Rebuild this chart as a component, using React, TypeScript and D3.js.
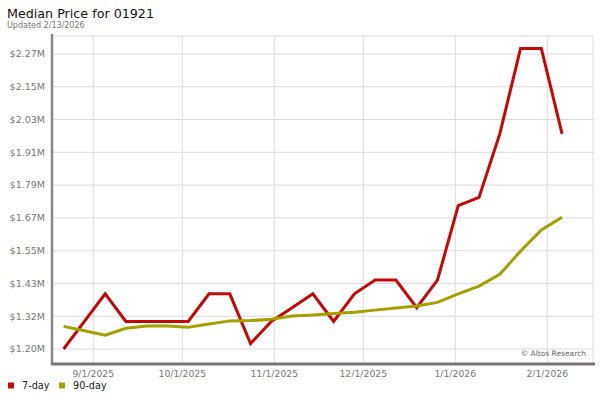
import React from "react";
import * as d3 from "d3";

const weekStart = new Date(2025, 7, 22);
const weeks = d3.range(25).map((i) => d3.timeDay.offset(weekStart, i * 7));

const sevenDay = [
  1.2, 1.3, 1.4, 1.3, 1.3, 1.3, 1.3, 1.4, 1.4, 1.22, 1.3, 1.35, 1.4, 1.3, 1.4,
  1.45, 1.45, 1.35, 1.45, 1.72, 1.75, 1.98, 2.29, 2.29, 1.98,
];
const ninetyDay = [
  1.282, 1.266, 1.25, 1.275, 1.283, 1.283, 1.279, 1.291, 1.302, 1.303, 1.308,
  1.32, 1.323, 1.329, 1.333, 1.341, 1.349, 1.356, 1.369, 1.4, 1.428, 1.471,
  1.555, 1.632, 1.678,
];

const yTickLabels = [
  "$1.20M", "$1.32M", "$1.43M", "$1.55M", "$1.67M",
  "$1.79M", "$1.91M", "$2.03M", "$2.15M", "$2.27M",
];
const xTickDates = [
  new Date(2025, 8, 1),
  new Date(2025, 9, 1),
  new Date(2025, 10, 1),
  new Date(2025, 11, 1),
  new Date(2026, 0, 1),
  new Date(2026, 1, 1),
];

const series = [
  { name: "7-day", values: sevenDay, color: "#c40808" },
  { name: "90-day", values: ninetyDay, color: "#a3a000" },
];

const font = "DejaVu Sans, sans-serif";

const App = () => {
  const plot = { left: 53, right: 593, top: 36, bottom: 364 };

  const x = d3
    .scaleTime()
    .domain([new Date(2025, 7, 18, 10), new Date(2026, 1, 16, 10)])
    .range([plot.left, plot.right]);

  const yMin = 1.2;
  const yMax = 2.27;
  const y = d3.scaleLinear().domain([yMin, yMax]).range([349, 54]);
  const yTicks = yTickLabels.map(
    (_, i) => yMin + (i * (yMax - yMin)) / (yTickLabels.length - 1)
  );

  const line = d3
    .line<number>()
    .x((_, i) => x(weeks[i]))
    .y((d) => y(d));

  const fmt = d3.timeFormat("%-m/%-d/%Y");

  return (
    <svg
      width={600}
      height={400}
      style={{ position: "absolute", left: 0, top: 0, background: "#fff" }}
      fontFamily={font}
    >
      <text x={7} y={18} fontSize={12.7} fill="#111">
        Median Price for 01921
      </text>
      <text x={7} y={28} fontSize={8} fill="#777">
        Updated 2/13/2026
      </text>

      {/* grid */}
      <g stroke="#dcdcdc" strokeWidth={1}>
        <line x1={plot.left} x2={plot.right} y1={plot.top} y2={plot.top} />
        <line x1={plot.right} x2={plot.right} y1={plot.top} y2={plot.bottom} />
        {yTicks.map((t, i) => (
          <line key={i} x1={plot.left} x2={plot.right} y1={y(t)} y2={y(t)} />
        ))}
        {xTickDates.map((d, i) => (
          <line key={i} x1={x(d)} x2={x(d)} y1={plot.top} y2={plot.bottom} />
        ))}
      </g>

      {/* y labels */}
      {yTicks.map((t, i) => (
        <text
          key={i}
          x={45}
          y={y(t)}
          dy="0.35em"
          textAnchor="end"
          fontSize={9.5}
          fill="#777"
        >
          {yTickLabels[i]}
        </text>
      ))}

      {/* x labels */}
      {xTickDates.map((d, i) => (
        <text
          key={i}
          x={x(d)}
          y={377}
          textAnchor="middle"
          fontSize={9.3}
          fill="#777"
        >
          {fmt(d)}
        </text>
      ))}

      <text x={586} y={356} textAnchor="end" fontSize={7.5} fill="#666">
        © Altos Research
      </text>

      {/* series */}
      {series.map((s) => (
        <path
          key={s.name}
          d={line(s.values) || ""}
          fill="none"
          stroke={s.color}
          strokeWidth={3}
          strokeLinejoin="miter"
        />
      ))}

      {/* axes */}
      <line
        x1={plot.left - 1}
        x2={plot.left - 1}
        y1={plot.top - 2}
        y2={plot.bottom + 1}
        stroke="#888"
        strokeWidth={2.5}
      />
      <line
        x1={plot.left - 2}
        x2={plot.right + 2}
        y1={plot.bottom}
        y2={plot.bottom}
        stroke="#777"
        strokeWidth={3}
      />

      {/* legend */}
      {series.map((s, i) => (
        <g key={s.name} transform={`translate(${8 + i * 51},382.5)`}>
          <rect width={6} height={6} fill={s.color} />
          <text x={14} y={6} dy="0.1em" fontSize={9.7} fill="#222">
            {s.name}
          </text>
        </g>
      ))}
    </svg>
  );
};

export default App;
